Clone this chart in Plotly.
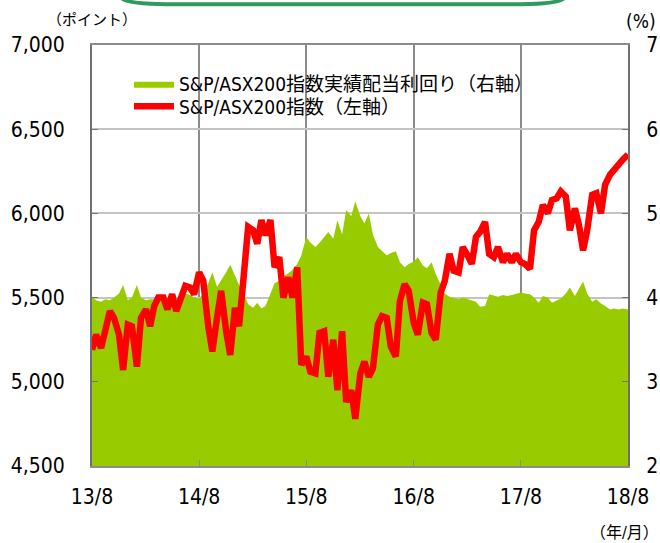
import pandas as pd
import plotly.graph_objects as go

# semi-monthly points, Aug 2013 .. Aug 2018
dates = pd.date_range("2013-08-01", periods=121, freq="SMS")

# S&P/ASX200 index (left axis, points)
asx200 = [
    5190, 5280, 5200, 5320, 5420, 5380, 5280, 5070, 5340, 5330,
    5090, 5380, 5430, 5330, 5450, 5500, 5500, 5430, 5520, 5420,
    5500, 5570, 5560, 5520, 5650, 5600, 5330, 5180, 5380, 5540,
    5300, 5160, 5440, 5330, 5650, 5920, 5900, 5820, 5960, 5870,
    5960, 5680, 5740, 5500, 5620, 5500, 5680, 5100, 5150, 5060,
    5050, 5290, 5300, 5030, 5250, 4950, 5300, 4880, 4950, 4780,
    5050, 5120, 5030, 5080, 5340, 5390, 5380, 5210, 5150, 5480,
    5580, 5540, 5350, 5280, 5470, 5460, 5290, 5250, 5530, 5600,
    5760, 5660, 5650, 5800, 5750, 5700, 5860, 5890, 5950, 5760,
    5740, 5800, 5710, 5760, 5710, 5760, 5710, 5700, 5670, 5900,
    5950, 6050, 6000, 6080, 6090, 6130, 6100, 5900, 6030, 5930,
    5780, 5900, 6110, 6120, 6000, 6170, 6230, 6260, 6300, 6320,
    6350,
]

# dividend yield (right axis, %)
div_yield = [
    4.01, 3.97, 3.95, 3.98, 3.97, 4.00, 4.05, 4.15, 3.97, 4.00,
    4.15, 4.00, 3.97, 3.98, 3.98, 3.97, 3.99, 4.00, 3.98, 3.97,
    4.00, 4.05, 4.03, 4.00, 3.99, 4.05, 4.17, 4.30, 4.13, 4.20,
    4.30, 4.39, 4.25, 4.15, 4.05, 3.92, 3.88, 3.94, 3.87, 3.90,
    4.05, 4.17, 4.20, 4.25, 4.29, 4.33, 4.40, 4.50, 4.72, 4.65,
    4.60, 4.65, 4.72, 4.78, 4.70, 4.92, 4.75, 5.04, 4.97, 5.14,
    4.97, 4.88, 5.00, 4.75, 4.60, 4.55, 4.50, 4.53, 4.55, 4.42,
    4.36, 4.40, 4.43, 4.48, 4.38, 4.35, 4.42, 4.28, 4.15, 4.05,
    4.01, 4.00, 3.98, 4.00, 3.98, 3.97, 3.95, 3.89, 3.90, 4.04,
    4.02, 4.01, 4.03, 4.02, 4.03, 4.04, 4.06, 4.05, 4.04, 4.00,
    3.94, 4.02, 4.00, 3.94, 3.97, 3.99, 4.05, 4.12, 4.02, 4.10,
    4.19, 4.05, 3.95, 3.98, 3.93, 3.90, 3.86, 3.87, 3.86, 3.87,
    3.86,
]

tick_dates = ["2013-08-01", "2014-08-01", "2015-08-01", "2016-08-01", "2017-08-01", "2018-08-01"]
tick_labels = ["13/8", "14/8", "15/8", "16/8", "17/8", "18/8"]

FONT = "DejaVu Sans Condensed, Liberation Sans, Noto Sans CJK JP"

fig = go.Figure()
fig.add_trace(go.Scatter(
    x=dates, y=div_yield, name="S&P/ASX200指数実績配当利回り（右軸）",
    mode="lines", line=dict(width=0, color="#99cc00"),
    fill="tozeroy", fillcolor="#99cc00", yaxis="y", legend="legend",
))
fig.add_trace(go.Scatter(
    x=dates, y=asx200, name="S&P/ASX200指数（左軸）",
    mode="lines", line=dict(width=6.5, color="#ff0000"), yaxis="y2", legend="legend2",
))

legend_style = dict(xanchor="left", yanchor="top", bgcolor="rgba(0,0,0,0)",
                    font=dict(size=19), itemwidth=40)

fig.update_layout(
    width=660, height=543,
    margin=dict(l=92, r=32, t=45, b=77),
    paper_bgcolor="white", plot_bgcolor="white",
    font=dict(family=FONT, size=21, color="black"),
    showlegend=True,
    legend=dict(x=0.069, y=0.953, **legend_style),
    legend2=dict(x=0.069, y=0.899, **legend_style),
    xaxis=dict(
        type="date", range=["2013-08-01", "2018-08-01"],
        tickvals=tick_dates, ticktext=tick_labels, automargin=False,
        showgrid=True, gridcolor="#8c8c8c", gridwidth=1.5,
        showline=True, linecolor="#8c8c8c", linewidth=2, mirror=True,
        ticks="inside", ticklen=6, tickcolor="#8c8c8c",
        ticklabelstandoff=11,
    ),
    # right axis (yield) is the base axis so the red line sits on top
    yaxis=dict(
        side="right", range=[2, 7], dtick=1, automargin=False,
        showgrid=True, gridcolor="#c4c4c4", gridwidth=1.5,
        showline=True, linecolor="#707070", linewidth=2,
        ticks="inside", ticklen=6, tickcolor="#707070",
        ticklabelstandoff=12, zeroline=False,
    ),
    yaxis2=dict(
        side="left", overlaying="y", range=[4500, 7000], dtick=500,
        tickformat=",", showgrid=False, zeroline=False, automargin=False,
        showline=True, linecolor="#707070", linewidth=2,
        ticks="inside", ticklen=6, tickcolor="#707070",
        ticklabelstandoff=21,
    ),
)

# unit labels
fig.add_annotation(text="（ポイント）", xref="paper", yref="paper", x=0.0, y=1.059,
                   xanchor="center", yanchor="middle", showarrow=False,
                   font=dict(size=15))
fig.add_annotation(text="(%)", xref="paper", yref="paper", x=1.056, y=1.057,
                   xanchor="right", yanchor="middle", showarrow=False,
                   font=dict(size=19))
fig.add_annotation(text="（年/月）", xref="paper", yref="paper", x=1.062, y=-0.159,
                   xanchor="right", yanchor="middle", showarrow=False,
                   font=dict(size=16))

# bottom edge of the title box cut off at the top of the image
fig.add_shape(type="path", xref="paper", yref="paper",
              path="M 0.052,1.115 Q 0.06,1.097 0.14,1.097 L 0.80,1.097 Q 0.876,1.097 0.884,1.115",
              line=dict(color="#2f9a5c", width=4))

# page body has an 8px default margin; drop it so the figure fills the window
fig.write_html("out.html", config={"displayModeBar": False},
               post_script="document.body.style.margin='0';")
